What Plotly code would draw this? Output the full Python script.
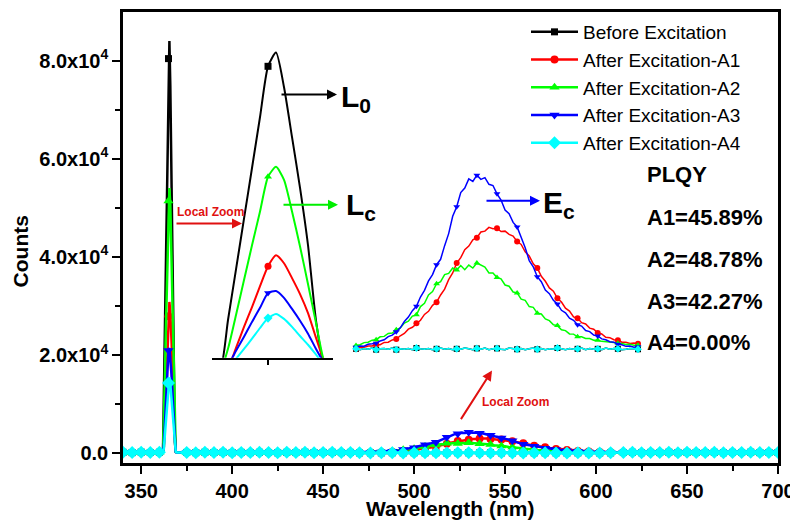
import plotly.graph_objects as go

# ---------------- data ----------------
wl_left = [340, 345, 350, 355, 360]
wl_peak = [361.0, 361.5, 362.0, 362.5, 363.0, 363.5, 364.0, 364.5, 365.0,
           365.5, 366.0, 366.5, 367.0, 367.5, 368.0, 368.5, 369.0, 369.5]
wl_mid = list(range(375, 466, 5))
wl_emis = list(range(470, 611, 2))
wl_right = list(range(615, 701, 5))

base_left = [150, 90, 180, 110, 160]
base_mid = [120, 80, 160, 100, 140, 70, 130, 90, 150, 110, 60, 140, 100, 170, 80, 120, 150, 90, 130]
base_right = [110, 150, 70, 130, 100, 160, 80, 140, 120, 90, 150, 60, 130, 110, 170, 90, 120, 100]

peak_before = [150, 250, 600, 13800, 27100, 40400, 53700, 67100, 80400, 84000,
               74900, 61800, 48500, 33400, 13600, 2200, 300, 150]
peak_a1 = [100, 120, 200, 1300, 6500, 12000, 17200, 22700, 27900, 30800,
           28700, 24800, 20600, 15600, 9100, 3100, 200, 100]
peak_a2 = [100, 150, 300, 6250, 15100, 24300, 33400, 42300, 51400, 54000,
           50600, 42300, 33100, 23200, 13000, 3100, 250, 100]
peak_a3 = [100, 120, 200, 2000, 5700, 9400, 13300, 17000, 20900, 21400,
           19600, 16700, 13600, 10200, 6200, 2600, 200, 100]
peak_a4 = [100, 120, 200, 1000, 3600, 6200, 8900, 11700, 14300, 15400,
           14100, 12000, 9600, 7300, 4700, 2100, 200, 100]

emis_flat = [40, 20, 50, 30, 60, 20, 40, 50, 30, 60, 20, 40, 30, 50, 20, 60, 40, 30,
             50, 20, 40, 60, 30, 50, 20, 40, 30, 60, 40, 20, 50, 30, 60, 20, 40, 50,
             30, 20, 60, 40, 30, 50, 20, 40, 60, 30, 50, 20, 40, 30, 60, 40, 20, 50,
             30, 40, 60, 20, 50, 30, 40, 20, 60, 30, 50, 40, 20, 30, 50, 40, 30]
emis_a1 = [40, 70, 75, 110, 110, 145, 140, 195, 200, 255, 275, 355, 410, 515, 560, 655,
           730, 870, 945, 1090, 1165, 1340, 1480, 1710, 1870, 2110, 2240, 2430, 2520,
           2670, 2720, 2860, 2880, 2970, 2940, 2950, 2870, 2880, 2800, 2760, 2630, 2560,
           2380, 2280, 2090, 1990, 1790, 1670, 1510, 1430, 1260, 1170, 1020, 950, 810,
           780, 670, 640, 540, 515, 425, 400, 320, 310, 260, 250, 200, 200, 170, 180, 160]
emis_a2 = [120, 140, 190, 200, 250, 260, 330, 340, 410, 420, 500, 545, 660, 705, 830, 860,
           1060, 1140, 1340, 1420, 1610, 1660, 1830, 1860, 1990, 1940, 2050, 1950, 2060,
           1990, 2110, 2060, 2010, 1870, 1870, 1760, 1730, 1580, 1550, 1410, 1390, 1240,
           1210, 1060, 1040, 900, 880, 760, 720, 620, 600, 500, 480, 400, 395, 330, 330,
           290, 290, 250, 250, 220, 215, 195, 195, 175, 170, 145, 150, 125, 125]
emis_a3 = [80, 110, 105, 150, 160, 175, 230, 260, 335, 370, 450, 545, 700, 805, 960, 1065,
           1290, 1450, 1680, 1830, 2070, 2200, 2530, 2820, 3240, 3470, 3810, 3920, 4140,
           4080, 4230, 4130, 4170, 4010, 3980, 3780, 3630, 3390, 3300, 3090, 2980, 2740,
           2480, 2170, 2020, 1780, 1660, 1460, 1370, 1210, 1120, 970, 910, 780, 730, 620,
           590, 480, 455, 370, 350, 280, 260, 210, 200, 150, 140, 100, 110, 80, 90]

series_names = ["Before Excitation", "After Excitation-A1", "After Excitation-A2",
                "After Excitation-A3", "After Excitation-A4"]
series_colors = ["#000000", "#FF0000", "#00FF00", "#0000FF", "#00FFFF"]
series_symbols = ["square", "circle", "triangle-up", "triangle-down", "diamond"]
series_msize = [7, 8, 9, 9, 10]
series_peak = [peak_before, peak_a1, peak_a2, peak_a3, peak_a4]
series_emis = [emis_flat, emis_a1, emis_a2, emis_a3, emis_flat]

PLQY_lines = ["PLQY", "A1=45.89%", "A2=48.78%", "A3=42.27%", "A4=0.00%"]

# ---------------- geometry helpers (layout only) ----------------
# page body margin shifts the figure by OFF px; positions below are screenshot px
OFF = 8
PL, PR, PT, PB = 123, 778, 9, 463
W, H = 790, 517


def px(x):
    return (x - PL) / (PR - PL)


def py(y):
    return (PB - y) / (PB - PT)


FONT = "Liberation Sans, Arial, sans-serif"
TRANSP = "rgba(0,0,0,0)"

fig = go.Figure()

# main plot
main_x = wl_left + wl_peak + wl_mid + wl_emis + wl_right
mask = ([True] * len(wl_left) + [w == 365.0 for w in wl_peak] + [True] * len(wl_mid)
        + [i % 3 == 0 for i in range(len(wl_emis))] + [True] * len(wl_right))
for name, col, sym, ms, pk, em in zip(series_names, series_colors, series_symbols,
                                      series_msize, series_peak, series_emis):
    y = base_left + pk + base_mid + em + base_right
    fig.add_trace(go.Scatter(
        x=main_x, y=y, mode="lines+markers", name=name,
        line=dict(color=col, width=2.5),
        marker=dict(symbol=sym, size=ms, color=[col if m else TRANSP for m in mask],
                    line=dict(width=0)),
        xaxis="x", yaxis="y", showlegend=True))

# inset 1: zoom of excitation peak
mask1 = [w == 365.0 for w in wl_peak]
for col, sym, pk in zip(series_colors, series_symbols, series_peak):
    fig.add_trace(go.Scatter(
        x=wl_peak, y=pk, mode="lines+markers",
        line=dict(color=col, width=2, shape="spline", smoothing=0.6),
        marker=dict(symbol=sym, size=7, color=[col if m else TRANSP for m in mask1],
                    line=dict(width=0)),
        xaxis="x2", yaxis="y2", showlegend=False, cliponaxis=False))

# inset 2: zoom of emission band
mask2 = [i % 5 == 0 for i in range(len(wl_emis))]
for col, sym, em in zip(series_colors, series_symbols, series_emis):
    fig.add_trace(go.Scatter(
        x=wl_emis, y=em, mode="lines+markers",
        line=dict(color=col, width=1.5),
        marker=dict(symbol=sym, size=6, color=[col if m else TRANSP for m in mask2],
                    line=dict(width=0)),
        xaxis="x3", yaxis="y3", showlegend=False, cliponaxis=False))

tickfont = dict(family=FONT, size=20, color="black", weight="bold")
yticks = [0, 20000, 40000, 60000, 80000]
yticktext = ["0.0", "2.0x10<sup>4</sup>", "4.0x10<sup>4</sup>", "6.0x10<sup>4</sup>",
             "8.0x10<sup>4</sup>"]

fig.update_layout(
    width=W, height=H,
    margin=dict(l=PL - OFF, r=W - (PR - OFF), t=PT - OFF, b=H - (PB - OFF)),
    paper_bgcolor="white", plot_bgcolor=TRANSP,
    font=dict(family=FONT, color="black"),
    xaxis=dict(domain=[0, 1], range=[340, 700], tickmode="linear", tick0=0, dtick=50,
               ticks="outside", ticklen=8, tickwidth=2, tickcolor="black",
               showline=True, linewidth=2.5, linecolor="black", mirror=True,
               showgrid=False, zeroline=False, tickfont=tickfont,
               minor=dict(tickmode="linear", tick0=0, dtick=25, ticks="outside",
                          ticklen=5, tickwidth=2, tickcolor="black")),
    yaxis=dict(domain=[0, 1], range=[-2030, 89900], tickmode="array", tickvals=yticks,
               ticktext=yticktext, ticks="outside", ticklen=8, tickwidth=2,
               tickcolor="black", showline=True, linewidth=2.5, linecolor="black",
               mirror=True, showgrid=False, zeroline=False, tickfont=tickfont,
               minor=dict(tickmode="linear", tick0=0, dtick=10000, ticks="outside",
                          ticklen=5, tickwidth=2, tickcolor="black")),
    xaxis2=dict(domain=[px(212), px(333)], range=[361.5, 369.06], anchor="y2",
                tickmode="array", tickvals=[365], showticklabels=False,
                ticks="outside", ticklen=5, tickwidth=1.5, tickcolor="black",
                showline=True, linewidth=2, linecolor="black", showgrid=False,
                zeroline=False),
    yaxis2=dict(domain=[py(357), py(45)], range=[3900, 85270], anchor="x2",
                visible=False),
    xaxis3=dict(domain=[px(356), px(638)], range=[470, 610], anchor="y3", visible=False),
    yaxis3=dict(domain=[py(356), py(162)], range=[-150, 4500], anchor="x3", visible=False),
    legend=dict(x=px(526), y=py(10), xanchor="left", yanchor="top",
                bgcolor=TRANSP, borderwidth=0, itemwidth=47,
                font=dict(family=FONT, size=19, color="black")),
    showlegend=True,
)

ann = []
ann.append(dict(x=px(20), y=py(250), xref="paper", yref="paper", text="<b>Counts</b>",
                textangle=-90, showarrow=False, font=dict(size=21, family=FONT),
                xanchor="center", yanchor="middle"))
ann.append(dict(x=px(450), y=py(509), xref="paper", yref="paper",
                text="<b>Wavelength (nm)</b>", showarrow=False,
                font=dict(size=21, family=FONT), xanchor="center", yanchor="middle"))
# L0, Lc, Ec labels
for txt, xx, yy in [("L<sub>0</sub>", 339, 96), ("L<sub>c</sub>", 344, 205),
                    ("E<sub>c</sub>", 541, 203)]:
    ann.append(dict(x=px(xx), y=py(yy), xref="paper", yref="paper",
                    text="<b>" + txt + "</b>", showarrow=False,
                    font=dict(size=30, family=FONT, color="black"),
                    xanchor="left", yanchor="middle"))
# Local Zoom labels
for xx, yy in [(175, 210), (480, 402)]:
    ann.append(dict(x=px(xx), y=py(yy), xref="paper", yref="paper",
                    text="<b>Local Zoom</b>", showarrow=False,
                    font=dict(size=12, family=FONT, color="#E01010"),
                    xanchor="left", yanchor="middle"))
# arrows
for hx, hy, axx, ayy, col in [(337, 92, -57, 0, "#000000"),
                              (338, 203, -56, 0, "#00EE00"),
                              (540, 199, -55, 0, "#0000FF"),
                              (242, 222, -67, 0, "#E01010"),
                              (492, 370, -32, 50, "#E01010")]:
    ann.append(dict(x=px(hx), y=py(hy), xref="paper", yref="paper", text="",
                    showarrow=True, ax=axx, ay=ayy, arrowhead=2, arrowsize=1,
                    arrowwidth=2, arrowcolor=col, standoff=0, startstandoff=0))
# PLQY text
for txt, yy in zip(PLQY_lines, [173, 216, 258, 300, 342]):
    ann.append(dict(x=px(645), y=py(yy), xref="paper", yref="paper",
                    text="<b>" + txt + "</b>", showarrow=False,
                    font=dict(size=22, family=FONT, color="black"),
                    xanchor="left", yanchor="middle"))
fig.update_layout(annotations=ann)

fig.write_html("out.html")
